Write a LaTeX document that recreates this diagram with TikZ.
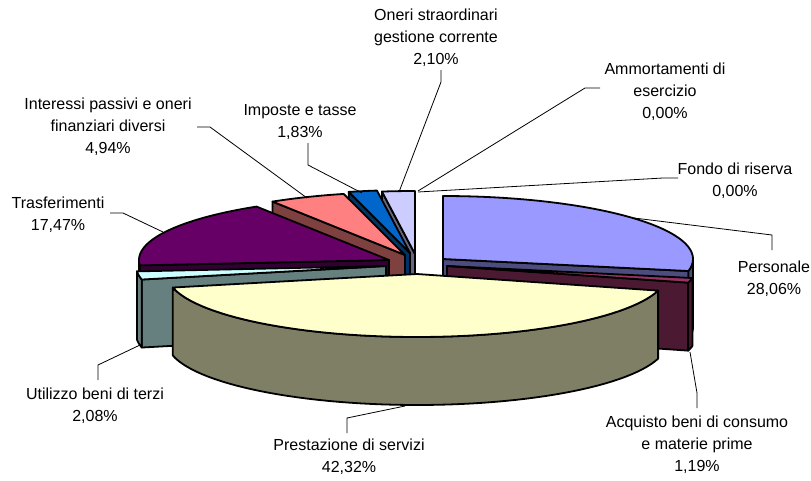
\documentclass[tikz,border=0pt]{standalone}
\usepackage{fontspec}
\setmainfont{Liberation Sans}
\definecolor{cPersT}{HTML}{9999FF}\definecolor{cPersS}{HTML}{4C4C7F}
\definecolor{cAcqT}{HTML}{993366}\definecolor{cAcqS}{HTML}{4C1933}
\definecolor{cPreT}{HTML}{FFFFCC}\definecolor{cPreS}{HTML}{7F7F66}
\definecolor{cUtiT}{HTML}{CCFFFF}\definecolor{cUtiS}{HTML}{667F7F}
\definecolor{cTraT}{HTML}{660066}\definecolor{cTraS}{HTML}{330033}
\definecolor{cIntT}{HTML}{FF8080}\definecolor{cIntS}{HTML}{7F4040}
\definecolor{cImpT}{HTML}{0066CC}\definecolor{cImpS}{HTML}{003366}
\definecolor{cOneT}{HTML}{CCCCFF}\definecolor{cOneS}{HTML}{66667F}
\def\prx{250}\def\pry{63}\def\ph{68}
\newcommand{\pietop}[5]{%
  \filldraw[pieedge, fill=#5] (#1,#2) -- plot[domain=#3:#4, samples=60] ({#1+\prx*sin(\x)},{#2-\pry*cos(\x)}) -- cycle;}
\newcommand{\pieradial}[4]{%
  \filldraw[pieedge, fill=#4] (#1,#2) -- ({#1+\prx*sin(#3)},{#2-\pry*cos(#3)}) -- ++(0,\ph) -- ({#1},{#2+\ph}) -- cycle;}
\newcommand{\pieouter}[5]{%
  \filldraw[pieedge, fill=#5] plot[domain=#3:#4, samples=60] ({#1+\prx*sin(\x)},{#2-\pry*cos(\x)}) -- plot[domain=#4:#3, samples=60] ({#1+\prx*sin(\x)},{#2+\ph-\pry*cos(\x)}) -- cycle;}
\begin{document}
\begin{tikzpicture}[x=1pt,y=-1pt,
  pieedge/.style={draw=black, line width=1.8pt, line join=round},
  leader/.style={draw=black, line width=0.8pt},
  lbl/.style={font=\fontsize{16}{22}\selectfont, align=center, inner sep=0pt, text=black}]
\useasboundingbox (0,0) rectangle (811,480);
\fill[white] (0,0) rectangle (811,480);
% Oneri straordinari
\pieradial{415}{254}{352.4}{cOneS}
\pietop{415}{254}{352.4}{360}{cOneT}
% Imposte
\pieradial{410}{253}{345.8}{cImpS}
\pietop{410}{253}{345.8}{352.4}{cImpT}
% Interessi
\pieradial{405}{255}{328}{cIntS}
\pietop{405}{255}{328}{345.8}{cIntT}
% Trasferimenti
\pieradial{389}{260}{265.1}{cTraS}
\pieouter{389}{260}{265.1}{270}{cTraS}
\pietop{389}{260}{265.1}{328}{cTraT}
% Utilizzo
\pieradial{386}{266}{257.6}{cUtiS}
\pieouter{386}{266}{257.6}{265.1}{cUtiS}
\pietop{386}{266}{257.6}{265.1}{cUtiT}
% Personale
\pieradial{443}{259}{101}{cPersS}
\pieouter{443}{259}{90}{101}{cPersS}
\pietop{443}{259}{0}{101}{cPersT}
% Acquisto
\pieradial{447}{266}{105.3}{cAcqS}
\pieouter{447}{266}{101}{105.3}{cAcqS}
\pietop{447}{266}{101}{105.3}{cAcqT}
% Prestazione
\pieouter{417}{274}{105.3}{257.6}{cPreS}
\pietop{417}{274}{105.3}{257.6}{cPreT}

% labels
\node[lbl] (lOne) at (436,37.5) {Oneri straordinari\\gestione corrente\\2,10\%};
\node[lbl] (lAmm) at (665,92) {Ammortamenti di\\esercizio\\0,00\%};
\node[lbl] (lInt) at (108,127) {Interessi passivi e oneri\\finanziari diversi\\4,94\%};
\node[lbl] (lImp) at (300,122) {Imposte e tasse\\1,83\%};
\node[lbl] (lFon) at (735,181) {Fondo di riserva\\0,00\%};
\node[lbl] (lTra) at (58,215) {Trasferimenti\\17,47\%};
\node[lbl] (lPer) at (774,279) {Personale\\28,06\%};
\node[lbl] (lUti) at (95,406) {Utilizzo beni di terzi\\2,08\%};
\node[lbl] (lPre) at (349,457) {Prestazione di servizi\\42,32\%};
\node[lbl] (lAcq) at (697,445) {Acquisto beni di consumo\\e materie prime\\1,19\%};

% leader coordinates
\coordinate (oneA) at (441,70);  \coordinate (oneB) at (441,82);  \coordinate (oneC) at (399,192);
\coordinate (ammA) at (600,88);  \coordinate (ammB) at (585,88);  \coordinate (ammC) at (418,191);
\coordinate (fonA) at (678,178); \coordinate (fonB) at (663,178); \coordinate (fonC) at (418,192);
\coordinate (perA) at (772,250); \coordinate (perB) at (772,235); \coordinate (perC) at (634,218);
\coordinate (acqA) at (697,408); \coordinate (acqB) at (697,393); \coordinate (acqC) at (690,352);
\coordinate (preA) at (347,433); \coordinate (preB) at (347,418); \coordinate (preC) at (405,406);
\coordinate (utiA) at (98,380);  \coordinate (utiB) at (98,365);  \coordinate (utiC) at (140,345);
\coordinate (traA) at (110,213); \coordinate (traB) at (123,213); \coordinate (traC) at (163,232);
\coordinate (intA) at (197,127); \coordinate (intB) at (210,127); \coordinate (intC) at (307,198);
\coordinate (impA) at (308,143); \coordinate (impB) at (308,165); \coordinate (impC) at (362,193);
\draw[leader] (oneA) -- (oneB) -- (oneC);
\draw[leader] (ammA) -- (ammB) -- (ammC);
\draw[leader] (fonA) -- (fonB) -- (fonC);
\draw[leader] (perA) -- (perB) -- (perC);
\draw[leader] (acqA) -- (acqB) -- (acqC);
\draw[leader] (preA) -- (preB) -- (preC);
\draw[leader] (utiA) -- (utiB) -- (utiC);
\draw[leader] (traA) -- (traB) -- (traC);
\draw[leader] (intA) -- (intB) -- (intC);
\draw[leader] (impA) -- (impB) -- (impC);
\end{tikzpicture}
\end{document}
